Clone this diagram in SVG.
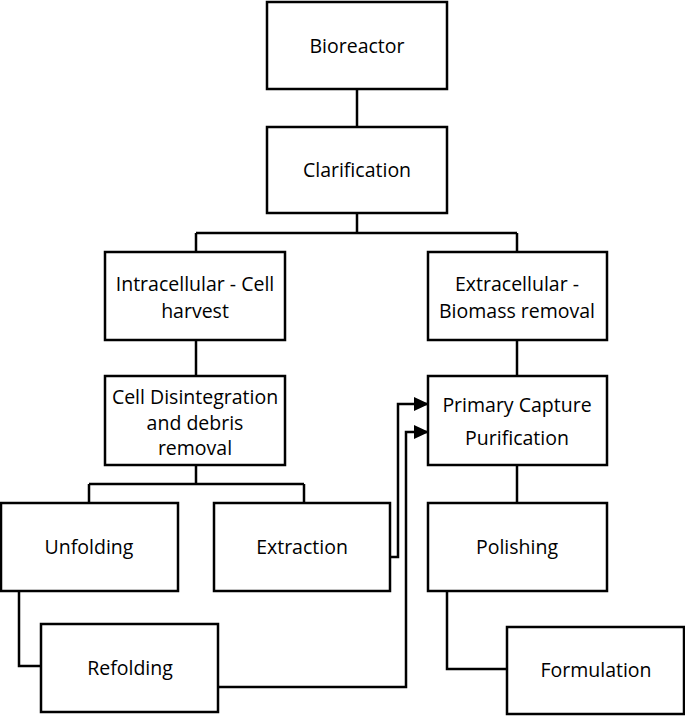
<svg xmlns="http://www.w3.org/2000/svg" width="685" height="716" viewBox="0 0 685 716">
<style>
.box{fill:#fff;stroke:#000;stroke-width:2.5}
.ln{fill:none;stroke:#000;stroke-width:2.5}
text{font-family:"Open Sans","Liberation Sans",sans-serif;font-size:19.5px;text-anchor:middle;fill:#000}
</style>
<defs>
<marker id="ah" markerWidth="16" markerHeight="16" refX="14" refY="7" orient="auto" markerUnits="userSpaceOnUse">
<path d="M0,0 L15,7 L0,14 Z" fill="#000"/>
</marker>
</defs>
<g id="connectors">
<path class="ln" d="M357,89 V127"/>
<path class="ln" d="M357,213 V233 M196,233 H517 M196,233 V252 M517,233 V252"/>
<path class="ln" d="M196,340 V376"/>
<path class="ln" d="M517,340 V376"/>
<path class="ln" d="M196,465 V484 M89,484 H304 M89,484 V503 M304,484 V503"/>
<path class="ln" d="M19,591 V666 H41"/>
<path class="ln" d="M517,465 V503"/>
<path class="ln" d="M447,591 V669 H507"/>
<path class="ln" d="M390,557 H398 V404 H428" marker-end="url(#ah)"/>
<path class="ln" d="M218,687 H406 V432 H428" marker-end="url(#ah)"/>
</g>
<g id="bioreactor"><rect class="box" x="267" y="2" width="180" height="87"/><text x="357" y="53">Bioreactor</text></g>
<g id="clarification"><rect class="box" x="267" y="127" width="180" height="86"/><text x="357" y="177">Clarification</text></g>
<g id="intracellular"><rect class="box" x="105" y="252" width="180" height="88"/><text x="195" y="291">Intracellular - Cell</text><text x="195" y="318">harvest</text></g>
<g id="extracellular"><rect class="box" x="428" y="252" width="179" height="88"/><text x="517" y="291">Extracellular -</text><text x="517" y="318">Biomass removal</text></g>
<g id="disintegration"><rect class="box" x="105" y="376" width="180" height="89"/><text x="195" y="404">Cell Disintegration</text><text x="195" y="430">and debris</text><text x="195" y="455">removal</text></g>
<g id="primary"><rect class="box" x="428" y="376" width="179" height="89"/><text x="517" y="412">Primary Capture</text><text x="517" y="445">Purification</text></g>
<g id="unfolding"><rect class="box" x="1" y="503" width="177" height="88"/><text x="89" y="554">Unfolding</text></g>
<g id="extraction"><rect class="box" x="214" y="503" width="176" height="88"/><text x="302" y="554">Extraction</text></g>
<g id="polishing"><rect class="box" x="428" y="503" width="179" height="88"/><text x="517" y="554">Polishing</text></g>
<g id="refolding"><rect class="box" x="41" y="624" width="177" height="88"/><text x="130" y="675">Refolding</text></g>
<g id="formulation"><rect class="box" x="507" y="627" width="177" height="87"/><text x="596" y="677">Formulation</text></g>
</svg>
